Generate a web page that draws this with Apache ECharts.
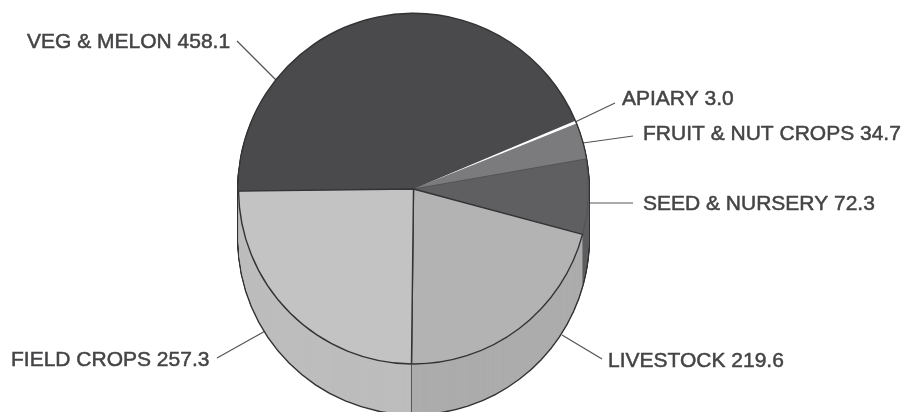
<!DOCTYPE html>
<html>
<head>
<meta charset="utf-8">
<style>html,body{margin:0;padding:0;background:#fff}#c{width:904px;height:412px}</style>
<script src="https://cdn.jsdelivr.net/npm/echarts@6/dist/echarts.min.js"></script>
</head>
<body>
<div id="c"></div>
<script>
const categories = ['VEG & MELON', 'APIARY', 'FRUIT & NUT CROPS', 'SEED & NURSERY', 'LIVESTOCK', 'FIELD CROPS'];
const values = [458.1, 3.0, 34.7, 72.3, 219.6, 257.3];
const topColors = ['#4a4a4d', '#ffffff', '#7b7b7d', '#5f5f62', '#b3b3b3', '#c3c3c3'];
const wallColors = ['#4a4a4d', '#d0d0d0', '#6d6d6f', '#5f5f62', '#acacac', '#bdbdbd'];

const cx = 413.5, cy = 189, r = 175, depth = 50, startAngle = 180.7;
const ink = '#333335';

const layouts = [
  {x: 27,  y: 42,  line: [[237, 41], [276, 80]]},
  {x: 622, y: 99,  line: [[573, 123], [615, 103]]},
  {x: 643, y: 134, line: [[583, 143], [633, 136]]},
  {x: 643, y: 204, line: [[588, 203], [633, 203]]},
  {x: 608, y: 361, line: [[562, 335], [602, 359]]},
  {x: 11,  y: 360, line: [[217, 358], [267, 330]]}
];
const topBorders = [
  {borderColor: '#4a4a4d', borderWidth: 0},
  {borderWidth: 0},
  {borderWidth: 0},
  {borderColor: '#4e4e50', borderWidth: 0.8},
  {borderColor: ink, borderWidth: 1.4},
  {borderColor: ink, borderWidth: 1.4}
];

const total = values.reduce((a, b) => a + b, 0);
const dividerAngle = (startAngle - 360 * (total - values[5]) / total) * Math.PI / 180;
const dividerX = cx + r * Math.cos(dividerAngle);
const dividerY = cy - r * Math.sin(dividerAngle);

const base = {type: 'pie', silent: true, startAngle, clockwise: true, animation: false,
  label: {show: false}, labelLine: {show: false}, emphasis: {disabled: true}};

const series = [];
for (let d = depth; d >= 0; d -= 1) {
  series.push(Object.assign({}, base, {center: [cx, cy + d], radius: [0, r + 1.4],
    data: categories.map((name, i) => ({name, value: values[i], itemStyle: {color: ink, borderWidth: 0}}))}));
}
for (let d = depth; d >= 1; d -= 1) {
  series.push(Object.assign({}, base, {center: [cx, cy + d], radius: [0, r],
    data: categories.map((name, i) => ({name, value: values[i], itemStyle: {color: wallColors[i], borderWidth: 0}}))}));
}
series.push(Object.assign({}, base, {
  center: [cx, cy], radius: [0, r],
  avoidLabelOverlap: false,
  data: categories.map((name, i) => ({name, value: values[i],
    itemStyle: Object.assign({color: topColors[i]}, topBorders[i])})),
  label: {show: true, position: 'outside', fontFamily: 'Liberation Sans', fontSize: 21,
    color: '#444446', textBorderColor: '#444446', textBorderWidth: 0.5,
    formatter: p => p.name + ' ' + p.value.toFixed(1)},
  labelLine: {show: true, lineStyle: {color: '#555', width: 1.2}},
  labelLayout: p => {
    const l = layouts[p.dataIndex];
    return {x: l.x, y: l.y, align: 'left', verticalAlign: 'middle', labelLinePoints: l.line, hideOverlap: false, moveOverlap: false};
  }
}));

const chart = echarts.init(document.getElementById('c'), null, {renderer: 'canvas'});
chart.setOption({
  animation: false,
  backgroundColor: '#fff',
  series,
  graphic: [{type: 'line', z: 10, silent: true,
    shape: {x1: dividerX, y1: dividerY, x2: dividerX, y2: dividerY + depth},
    style: {stroke: '#55555a', lineWidth: 1}}]
});
</script>
</body>
</html>
